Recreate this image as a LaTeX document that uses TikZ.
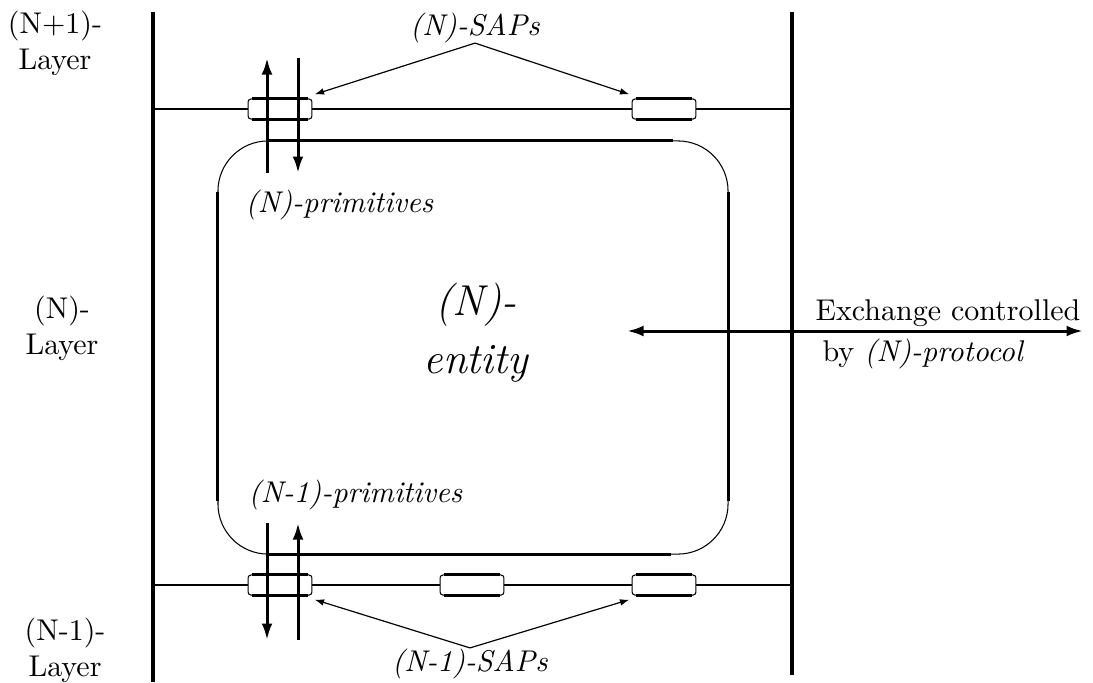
\documentclass[tikz,border=0pt]{standalone}
\usepackage{tikz}
\usetikzlibrary{arrows.meta}

\begin{document}
\begin{tikzpicture}[x=0.3333pt, y=-0.3333pt, >={Latex[length=5.5pt,width=3.6pt]}]
  \tikzstyle{sap}=[rectangle, draw, rounded corners=1pt, line width=0.35pt, minimum width=21.3pt, minimum height=6.7pt, inner sep=0pt]
  \tikzstyle{entitybox}=[rectangle, draw, rounded corners=16.7pt, line width=0.35pt, minimum width=170pt, minimum height=137.7pt, inner sep=0pt]
  \tikzstyle{thickedge}=[line width=0.9pt]
  \tikzstyle{layer}=[line width=1.1pt]
  \tikzstyle{hline}=[line width=0.7pt]
  \tikzstyle{prim}=[line width=1pt, ->]
  \tikzstyle{note}=[line width=0.4pt, -{Latex[length=3.2pt,width=2.2pt]}]
  \tikzstyle{lbl}=[inner sep=0pt, align=center]
  \useasboundingbox (0,0) rectangle (1093,682);

  % layer boundaries
  \coordinate (lt) at (153,12);
  \coordinate (lb) at (153,682);
  \coordinate (rt) at (792,12);
  \coordinate (rb) at (792,675);
  \draw[layer] (lt) -- (lb);
  \draw[layer] (rt) -- (rb);

  % (N)-entity
  \node[entitybox] (box) at (473,347.5) {};
  \draw[thickedge] (box.north west) ++(50,0) -- ++(406,0);
  \draw[thickedge] (box.south west) ++(52,0) -- ++(402,0);
  \draw[thickedge] (box.north west) ++(0,52) -- ++(0,309);
  \draw[thickedge] (box.north east) ++(0,52) -- ++(0,309);
  \node[lbl, anchor=north, font=\Large\itshape] (entity) at (476,282) {(N)-\\[1.5pt]entity};

  % SAPs
  \node[sap] (nsapA) at (280,109) {};
  \node[sap] (nsapB) at (664,109) {};
  \node[sap] (msapA) at (280,585) {};
  \node[sap] (msapB) at (472,585) {};
  \node[sap] (msapC) at (664,585) {};
  \foreach \s in {nsapA,nsapB,msapA,msapB,msapC}{
    \draw[thickedge] (\s.north west) ++(4,0) -- ++(56,0);
    \draw[thickedge] (\s.south west) ++(4,0) -- ++(56,0);
  }
  \coordinate (lt1) at (153,109);
  \coordinate (rt1) at (792,109);
  \coordinate (lb1) at (153,585);
  \coordinate (rb1) at (792,585);
  \draw[hline] (lt1) -- (nsapA) -- (nsapB) -- (rt1);
  \draw[hline] (lb1) -- (msapA) -- (msapB) -- (msapC) -- (rb1);

  % primitives
  \coordinate (nupS) at (267,173);
  \coordinate (nupE) at (267,58);
  \coordinate (ndnS) at (298,58);
  \coordinate (ndnE) at (298,173);
  \coordinate (mdnS) at (267,523);
  \coordinate (mdnE) at (267,640);
  \coordinate (mupS) at (298,640);
  \coordinate (mupE) at (298,523);
  \draw[prim] (nupS) -- (nupE);
  \draw[prim] (ndnS) -- (ndnE);
  \draw[prim] (mdnS) -- (mdnE);
  \draw[prim] (mupS) -- (mupE);
  \node[lbl, anchor=base west] (nprim) at (245,212) {\textit{(N)-primitives}};
  \node[lbl, anchor=base west] (mprim) at (248,502) {\textit{(N-1)-primitives}};

  % SAP labels
  \node[lbl, anchor=base] (nsaps) at (475,35) {\textit{(N)-SAPs}};
  \node[lbl, anchor=base] (msaps) at (470,671) {\textit{(N-1)-SAPs}};
  \draw[note] (nsaps.south) -- ([shift={(2,-4)}]nsapA.north east);
  \draw[note] (nsaps.south) -- ([shift={(-2,-4)}]nsapB.north west);
  \draw[note] (msaps.north) -- ([shift={(2,4)}]msapA.south east);
  \draw[note] (msaps.north) -- ([shift={(-2,4)}]msapC.south west);

  % layers
  \node[lbl, anchor=north] (lN1) at (55,10.5) {(N+1)-\\Layer};
  \node[lbl, anchor=north] (lN) at (62,295.5) {(N)-\\Layer};
  \node[lbl, anchor=north] (lN0) at (65,617.5) {(N-1)-\\Layer};

  % protocol
  \coordinate (exL) at (627,331);
  \coordinate (exR) at (1083,331);
  \draw[prim, <->] (exL) -- (exR);
  \node[lbl, anchor=base west] (exch) at (815,320) {Exchange controlled};
  \node[lbl, anchor=base west] (proto) at (822,361) {by \textit{(N)-protocol}};
\end{tikzpicture}
\end{document}
